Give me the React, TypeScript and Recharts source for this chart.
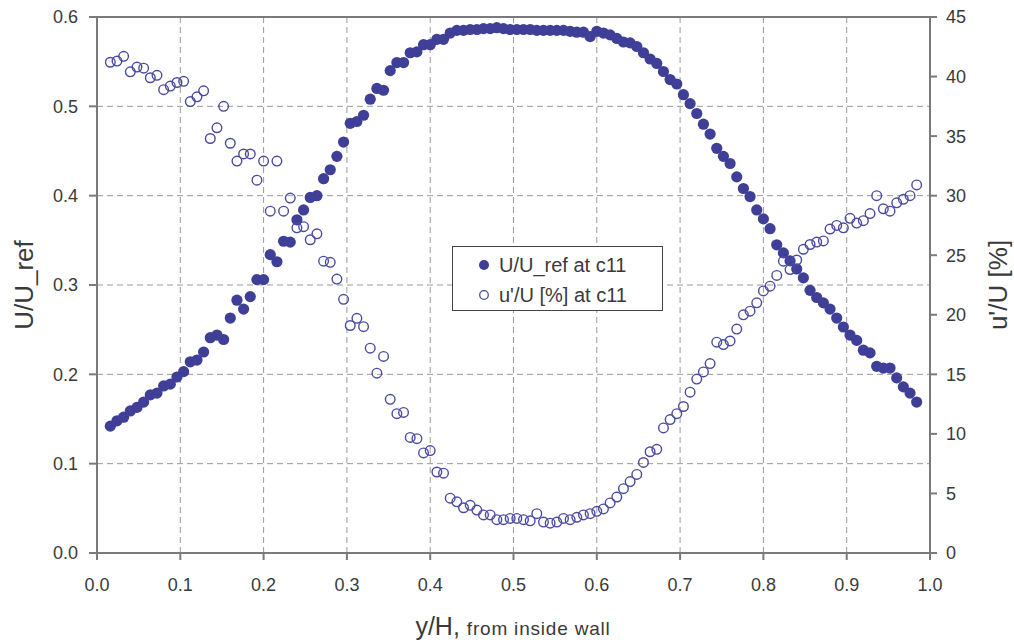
import {
  ScatterChart,
  Scatter,
  XAxis,
  YAxis,
  CartesianGrid,
  ReferenceLine,
} from "recharts"

// y/H positions, same for both series
const Y_OVER_H = [
  0.016, 0.024, 0.032, 0.040, 0.048, 0.056, 0.064, 0.072, 0.080, 0.088,
  0.096, 0.104, 0.112, 0.120, 0.128, 0.136, 0.144, 0.152, 0.160, 0.168,
  0.176, 0.184, 0.192, 0.200, 0.208, 0.216, 0.224, 0.232, 0.240, 0.248,
  0.256, 0.264, 0.272, 0.280, 0.288, 0.296, 0.304, 0.312, 0.320, 0.328,
  0.336, 0.344, 0.352, 0.360, 0.368, 0.376, 0.384, 0.392, 0.400, 0.408,
  0.416, 0.424, 0.432, 0.440, 0.448, 0.456, 0.464, 0.472, 0.480, 0.488,
  0.496, 0.504, 0.512, 0.520, 0.528, 0.536, 0.544, 0.552, 0.560, 0.568,
  0.576, 0.584, 0.592, 0.600, 0.608, 0.616, 0.624, 0.632, 0.640, 0.648,
  0.656, 0.664, 0.672, 0.680, 0.688, 0.696, 0.704, 0.712, 0.720, 0.728,
  0.736, 0.744, 0.752, 0.760, 0.768, 0.776, 0.784, 0.792, 0.800, 0.808,
  0.816, 0.824, 0.832, 0.840, 0.848, 0.856, 0.864, 0.872, 0.880, 0.888,
  0.896, 0.904, 0.912, 0.920, 0.928, 0.936, 0.944, 0.952, 0.960, 0.968,
  0.976, 0.984,
]

// U/U_ref at c11 (left axis)
const U_REF = [
  0.142, 0.148, 0.152, 0.159, 0.163, 0.169, 0.177, 0.179, 0.187, 0.189,
  0.197, 0.203, 0.214, 0.216, 0.225, 0.241, 0.244, 0.239, 0.263, 0.283,
  0.273, 0.287, 0.306, 0.306, 0.334, 0.326, 0.349, 0.348, 0.373, 0.384,
  0.398, 0.400, 0.419, 0.429, 0.444, 0.460, 0.481, 0.483, 0.490, 0.508,
  0.520, 0.518, 0.540, 0.549, 0.549, 0.560, 0.561, 0.569, 0.569, 0.575,
  0.575, 0.582, 0.585, 0.585, 0.586, 0.586, 0.587, 0.587, 0.588, 0.587,
  0.586, 0.586, 0.586, 0.586, 0.585, 0.585, 0.585, 0.585, 0.585, 0.584,
  0.583, 0.583, 0.578, 0.584, 0.582, 0.580, 0.576, 0.572, 0.571, 0.567,
  0.560, 0.553, 0.548, 0.539, 0.530, 0.525, 0.513, 0.503, 0.492, 0.480,
  0.469, 0.453, 0.444, 0.436, 0.421, 0.408, 0.399, 0.384, 0.374, 0.363,
  0.345, 0.336, 0.327, 0.318, 0.308, 0.294, 0.286, 0.280, 0.273, 0.263,
  0.253, 0.244, 0.238, 0.227, 0.224, 0.209, 0.207, 0.207, 0.196, 0.186,
  0.179, 0.169,
]

// u'/U [%] at c11 (right axis)
const TURB = [
  41.2, 41.3, 41.7, 40.4, 40.8, 40.7, 39.9, 40.1, 38.9, 39.2,
  39.5, 39.6, 37.9, 38.3, 38.8, 34.8, 35.7, 37.5, 34.4, 32.9,
  33.5, 33.5, 31.3, 32.9, 28.7, 32.9, 28.7, 29.8, 27.3, 27.4,
  26.3, 26.8, 24.5, 24.4, 23.0, 21.3, 19.1, 19.7, 19.0, 17.2,
  15.1, 16.5, 12.9, 11.7, 11.8, 9.7, 9.6, 8.4, 8.6, 6.8,
  6.7, 4.6, 4.3, 3.8, 4.0, 3.6, 3.2, 3.2, 2.8, 2.8,
  2.9, 2.9, 2.8, 2.7, 3.3, 2.6, 2.5, 2.6, 2.9, 2.8,
  3.0, 3.2, 3.3, 3.5, 3.7, 4.2, 4.7, 5.4, 6.0, 6.6,
  7.6, 8.5, 8.7, 10.5, 11.2, 11.7, 12.3, 13.5, 14.6, 15.2,
  15.9, 17.7, 17.5, 17.8, 18.8, 20.0, 20.3, 21.0, 22.0, 22.4,
  23.3, 24.5, 23.8, 24.6, 25.5, 25.9, 26.1, 26.2, 27.2, 27.5,
  27.3, 28.1, 27.7, 27.9, 28.5, 30.0, 28.9, 28.7, 29.4, 29.7,
  30.0, 30.9,
]

const X_TICKS = [0, 0.1, 0.2, 0.3, 0.4, 0.5, 0.6, 0.7, 0.8, 0.9, 1.0]
const LEFT_TICKS = [0, 0.1, 0.2, 0.3, 0.4, 0.5, 0.6]
const RIGHT_TICKS = [0, 5, 10, 15, 20, 25, 30, 35, 40, 45]

const DOT = "#3f3f97"
const RING = "#4a4aa2"
const FONT = "'Liberation Sans', Arial, sans-serif"
const TEXT = "#3a3a3a"
const AXIS = "#7a7a7a"

const meanData = Y_OVER_H.map((x, i) => ({ x, y: U_REF[i] }))
const turbData = Y_OVER_H.map((x, i) => ({ x, y: TURB[i] }))

const FilledDot = (p: any) => <circle cx={p.cx} cy={p.cy} r={5.6} fill={DOT} />
const OpenDot = (p: any) => (
  <circle cx={p.cx} cy={p.cy} r={4.8} fill="none" stroke={RING} strokeWidth={1.4} />
)

// legend box sits over the plot, so it is drawn as an overlay (a Recharts Legend would steal space)
function LegendBox() {
  const row = { display: "flex", alignItems: "center", height: 30 }
  return (
    <div
      style={{
        position: "absolute",
        left: 452,
        top: 246,
        boxSizing: "border-box",
        width: 211,
        height: 65,
        border: "1px solid #444",
        background: "#fff",
        padding: "3px 0 0 24px",
        fontFamily: FONT,
        fontSize: 20,
        color: TEXT,
      }}
    >
      <div style={row}>
        <svg width={14} height={14} style={{ marginRight: 8 }}>
          <circle cx={7} cy={7} r={5} fill={DOT} />
        </svg>
        U/U_ref at c11
      </div>
      <div style={row}>
        <svg width={14} height={14} style={{ marginRight: 8 }}>
          <circle cx={7} cy={7} r={4.3} fill="none" stroke={RING} strokeWidth={1.3} />
        </svg>
        u'/U [%] at c11
      </div>
    </div>
  )
}

export default function App() {
  const tickStyle = { fontSize: 18, fill: TEXT, fontFamily: FONT }
  return (
    <div style={{ position: "absolute", left: 0, top: 0, width: 1014, height: 642, background: "#fff" }}>
      <ScatterChart
        width={1014}
        height={642}
        margin={{ top: 17, right: 0, bottom: 0, left: 0 }}
      >
        <CartesianGrid
          yAxisId="left"
          stroke="#9a9a9a"
          strokeDasharray="6 4"
          strokeWidth={1}
        />
        <XAxis
          type="number"
          dataKey="x"
          domain={[0, 1]}
          ticks={X_TICKS}
          tickFormatter={(v: number) => v.toFixed(1)}
          height={89}
          tick={tickStyle}
          tickSize={7}
          tickMargin={18}
          stroke={AXIS}
          strokeWidth={2}
          label={{
            content: () => (
              <text x={513} y={635} textAnchor="middle" fill={TEXT} fontFamily={FONT}>
                <tspan fontSize={25}>y/H, </tspan>
                <tspan fontSize={19} letterSpacing={0.8}>from inside wall</tspan>
              </text>
            ),
          }}
        />
        <YAxis
          yAxisId="left"
          type="number"
          dataKey="y"
          domain={[0, 0.6]}
          ticks={LEFT_TICKS}
          tickFormatter={(v: number) => v.toFixed(1)}
          width={97}
          tick={tickStyle}
          tickSize={8}
          tickMargin={11}
          stroke={AXIS}
          strokeWidth={2}
          label={{
            content: (props: any) => {
              const vb = props.viewBox
              const cy = vb.y + vb.height / 2
              return (
                <text
                  x={33}
                  y={cy}
                  transform={`rotate(-90 33 ${cy})`}
                  textAnchor="middle"
                  fontSize={26}
                  fill={TEXT}
                  fontFamily={FONT}
                >
                  U/U_ref
                </text>
              )
            },
          }}
        />
        <YAxis
          yAxisId="right"
          orientation="right"
          type="number"
          dataKey="y"
          domain={[0, 45]}
          ticks={RIGHT_TICKS}
          width={84}
          tick={tickStyle}
          tickSize={7}
          tickMargin={9}
          stroke={AXIS}
          strokeWidth={2}
          label={{
            content: (props: any) => {
              const vb = props.viewBox
              const cy = vb.y + vb.height / 2
              return (
                <text
                  x={1007}
                  y={cy}
                  transform={`rotate(-90 1007 ${cy})`}
                  textAnchor="middle"
                  fontSize={26}
                  fill={TEXT}
                  fontFamily={FONT}
                >
                  u'/U [%]
                </text>
              )
            },
          }}
        />
        <ReferenceLine yAxisId="left" y={0.6} stroke={AXIS} strokeWidth={2} />
        <Scatter
          name="U/U_ref at c11"
          yAxisId="left"
          data={meanData}
          shape={FilledDot}
          isAnimationActive={false}
        />
        <Scatter
          name="u'/U [%] at c11"
          yAxisId="right"
          data={turbData}
          shape={OpenDot}
          isAnimationActive={false}
        />
      </ScatterChart>
      <LegendBox />
    </div>
  )
}
